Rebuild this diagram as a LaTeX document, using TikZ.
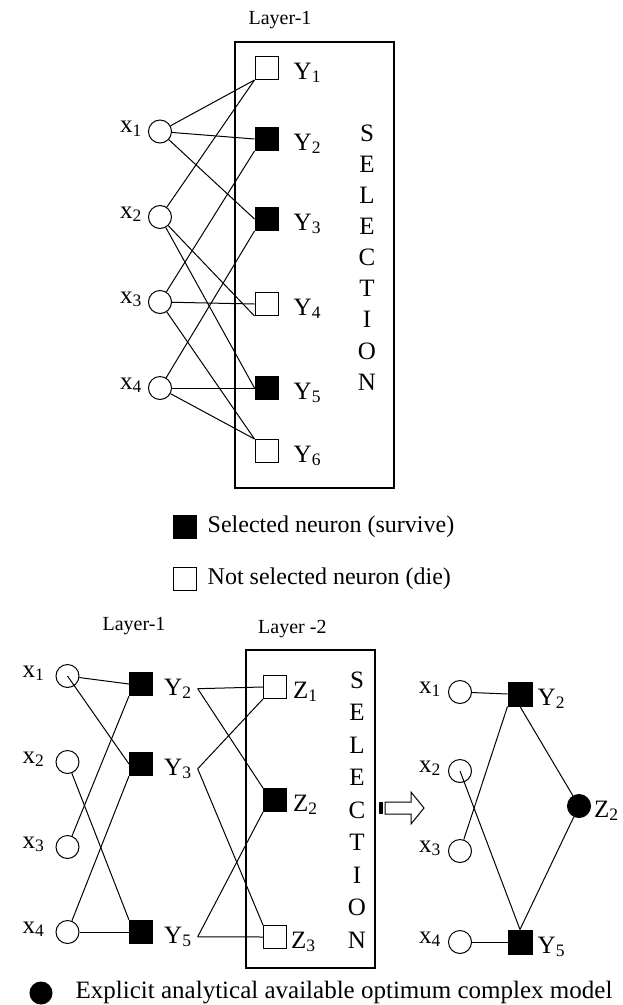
\documentclass[tikz,border=0pt]{standalone}
\usepackage{fontspec}
\setmainfont{Liberation Serif}
\usetikzlibrary{positioning}
\tikzset{
  inp/.style={draw, circle, line width=1pt, minimum size=23pt, inner sep=0pt},
  neu/.style={draw, rectangle, line width=1pt, minimum size=23pt, inner sep=0pt},
  sel/.style={neu, fill=black},
  outn/.style={inp, fill=black},
  ylbl/.style={anchor=base west, inner sep=0pt, font=\fontsize{25}{30}\selectfont},
  xlbl/.style={anchor=base east, inner sep=0pt, font=\fontsize{25}{30}\selectfont},
  hdr/.style={inner sep=0pt, font=\fontsize{20}{24}\selectfont},
  legtxt/.style={inner sep=0pt, font=\fontsize{24}{28}\selectfont},
  wire/.style={line width=1pt},
  frame/.style={draw, line width=1.2pt, inner sep=0pt},
  vtext/.style={align=center, inner sep=0pt, font=\fontsize{25}{31.1}\selectfont},
}
\begin{document}
\begin{tikzpicture}[x=1pt, y=-1pt]
  \useasboundingbox (0,0) rectangle (622,1005);
  \node[hdr] (lay1a) at (280,20) {Layer-1};
  \node[frame, minimum width=159pt, minimum height=446pt] (boxa) at (314.5,265) {};
  \node[vtext] (sela) at (367,257.5) {S\\E\\L\\E\\C\\T\\I\\O\\N};
  \node[inp] (tx1) at (160,131.5) {};
  \node[inp] (tx2) at (160,217) {};
  \node[inp] (tx3) at (160,302) {};
  \node[inp] (tx4) at (160,388) {};
  \node[xlbl] (ltx1) at ([xshift=-6pt, yshift=-1pt]tx1.west) {x\textsubscript{1}};
  \node[xlbl] (ltx2) at ([xshift=-6pt, yshift=-1pt]tx2.west) {x\textsubscript{2}};
  \node[xlbl] (ltx3) at ([xshift=-6pt, yshift=-1pt]tx3.west) {x\textsubscript{3}};
  \node[xlbl] (ltx4) at ([xshift=-6pt, yshift=-1pt]tx4.west) {x\textsubscript{4}};
  \node[neu] (ty1) at (266.5,68) {};
  \node[sel] (ty2) at (266.5,139) {};
  \node[sel] (ty3) at (266.5,219) {};
  \node[neu] (ty4) at (266.5,304) {};
  \node[sel] (ty5) at (266.5,388) {};
  \node[neu] (ty6) at (266.5,451) {};
  \node[ylbl] (lty1) at ([xshift=15pt, yshift=-11pt]ty1.east) {Y\textsubscript{1}};
  \node[ylbl] (lty2) at ([xshift=15pt, yshift=-11pt]ty2.east) {Y\textsubscript{2}};
  \node[ylbl] (lty3) at ([xshift=15pt, yshift=-11pt]ty3.east) {Y\textsubscript{3}};
  \node[ylbl] (lty4) at ([xshift=15pt, yshift=-11pt]ty4.east) {Y\textsubscript{4}};
  \node[ylbl] (lty5) at ([xshift=15pt, yshift=-11pt]ty5.east) {Y\textsubscript{5}};
  \node[ylbl] (lty6) at ([xshift=15pt, yshift=-11pt]ty6.east) {Y\textsubscript{6}};
  \draw[wire] (tx1) -- (ty1.south west);
  \draw[wire] (tx1) -- (ty2.west);
  \draw[wire] (tx1) -- (ty3.west);
  \draw[wire] (tx2) -- (ty1.south west);
  \draw[wire] (tx2) -- (ty4.south west);
  \draw[wire] (tx2) -- (ty5.west);
  \draw[wire] (tx3) -- (ty2.south west);
  \draw[wire] (tx3) -- (ty4.west);
  \draw[wire] (tx3) -- (ty6.north west);
  \draw[wire] (tx4) -- (ty3.south west);
  \draw[wire] (tx4) -- (ty5.west);
  \draw[wire] (tx4) -- (ty6.north west);
  \node[sel] (legsel) at (184.5,527) {};
  \node[legtxt, right=11pt of legsel] (legseltxt) {Selected neuron (survive)};
  \node[neu] (legnot) at (184.5,579) {};
  \node[legtxt, right=11pt of legnot] (legnottxt) {Not selected neuron (die)};
  \node[hdr] (lay1b) at (134,626) {Layer-1};
  \node[hdr, anchor=west] (lay2b) at (258,629) {Layer -2};
  \node[frame, minimum width=129pt, minimum height=318pt] (boxb) at (310.5,809) {};
  \node[vtext, font=\fontsize{25}{32.5}\selectfont] (selb) at (357,810) {S\\E\\L\\E\\C\\T\\I\\O\\N};
  \node[inp] (bx1) at (67.5,676) {};
  \node[inp] (bx2) at (67.5,762) {};
  \node[inp] (bx3) at (67.5,847) {};
  \node[inp] (bx4) at (67.5,932) {};
  \node[xlbl] (lbx1) at ([xshift=-11pt, yshift=-1pt]bx1.west) {x\textsubscript{1}};
  \node[xlbl] (lbx2) at ([xshift=-11pt, yshift=-1pt]bx2.west) {x\textsubscript{2}};
  \node[xlbl] (lbx3) at ([xshift=-11pt, yshift=-1pt]bx3.west) {x\textsubscript{3}};
  \node[xlbl] (lbx4) at ([xshift=-11pt, yshift=-1pt]bx4.west) {x\textsubscript{4}};
  \node[sel] (by2) at (141,684) {};
  \node[sel] (by3) at (141,764) {};
  \node[sel] (by5) at (141,932) {};
  \node[ylbl] (lby2) at ([xshift=11pt, yshift=-11pt]by2.east) {Y\textsubscript{2}};
  \node[ylbl] (lby3) at ([xshift=11pt, yshift=-11pt]by3.east) {Y\textsubscript{3}};
  \node[ylbl] (lby5) at ([xshift=11pt, yshift=-11pt]by5.east) {Y\textsubscript{5}};
  \coordinate (oy2) at ([xshift=6pt]lby2.east);
  \coordinate (oy3) at ([xshift=6pt]lby3.east);
  \coordinate (oy5) at ([xshift=6pt]lby5.east);
  \node[neu] (bz1) at (275,687) {};
  \node[sel] (bz2) at (275,800) {};
  \node[neu] (bz3) at (275,937) {};
  \node[ylbl] (lbz1) at ([xshift=6pt, yshift=-11pt]bz1.east) {Z\textsubscript{1}};
  \node[ylbl] (lbz2) at ([xshift=6pt, yshift=-11pt]bz2.east) {Z\textsubscript{2}};
  \node[ylbl] (lbz3) at ([xshift=4pt, yshift=-11pt]bz3.east) {Z\textsubscript{3}};
  \draw[wire] (bx1) -- (by2.west);
  \draw[wire] (bx1.center) -- (by3.west);
  \draw[wire] (bx2) -- (by5.north west);
  \draw[wire] (bx3) -- (by2.south west);
  \draw[wire] (bx4) -- (by3.south west);
  \draw[wire] (bx4) -- (by5.west);
  \draw[wire] (oy2) -- (bz1.west);
  \draw[wire] (oy2) -- (bz2.north west);
  \draw[wire] (oy3) -- (bz1.south west);
  \draw[wire] (oy3) -- (bz3.north west);
  \draw[wire] (oy5) -- (bz2.south west);
  \draw[wire] (oy5) -- (bz3.west);
  \fill (379,802) rectangle (383,814);
  \draw[wire] (385,802) -- (411,802) -- (411,792) -- (424,808) -- (411,824) -- (411,814) -- (385,814) -- cycle;
  \node[inp] (rx1) at (460,692) {};
  \node[inp] (rx2) at (460,771) {};
  \node[inp] (rx3) at (460,851) {};
  \node[inp] (rx4) at (460,942) {};
  \node[xlbl] (lrx1) at ([xshift=-7pt, yshift=-1pt]rx1.west) {x\textsubscript{1}};
  \node[xlbl] (lrx2) at ([xshift=-7pt, yshift=-1pt]rx2.west) {x\textsubscript{2}};
  \node[xlbl] (lrx3) at ([xshift=-7pt, yshift=-1pt]rx3.west) {x\textsubscript{3}};
  \node[xlbl] (lrx4) at ([xshift=-7pt, yshift=-1pt]rx4.west) {x\textsubscript{4}};
  \node[sel, minimum size=24pt] (ry2) at (520,694) {};
  \node[sel, minimum size=24pt] (ry5) at (520,942) {};
  \node[outn] (rz2) at (579,806) {};
  \node[ylbl] (lry2) at ([xshift=5pt, yshift=-11pt]ry2.east) {Y\textsubscript{2}};
  \node[ylbl] (lry5) at ([xshift=5pt, yshift=-11pt]ry5.east) {Y\textsubscript{5}};
  \node[ylbl] (lrz2) at ([xshift=3pt, yshift=-11pt]rz2.east) {Z\textsubscript{2}};
  \draw[wire] (rx1) -- (ry2.west);
  \draw[wire] (rx3) -- (ry2.south west);
  \draw[wire] (rx2.center) -- (ry5.north);
  \draw[wire] (rx4) -- (ry5.west);
  \draw[wire] (ry2.south) -- (rz2);
  \draw[wire] (ry5.north) -- (rz2);
  \node[outn, minimum size=22pt] (legopt) at (41,993) {};
  \node[legtxt, font=\fontsize{25}{30}\selectfont, right=23pt of legopt] (legopttxt) {Explicit analytical available optimum complex model};
\end{tikzpicture}
\end{document}
